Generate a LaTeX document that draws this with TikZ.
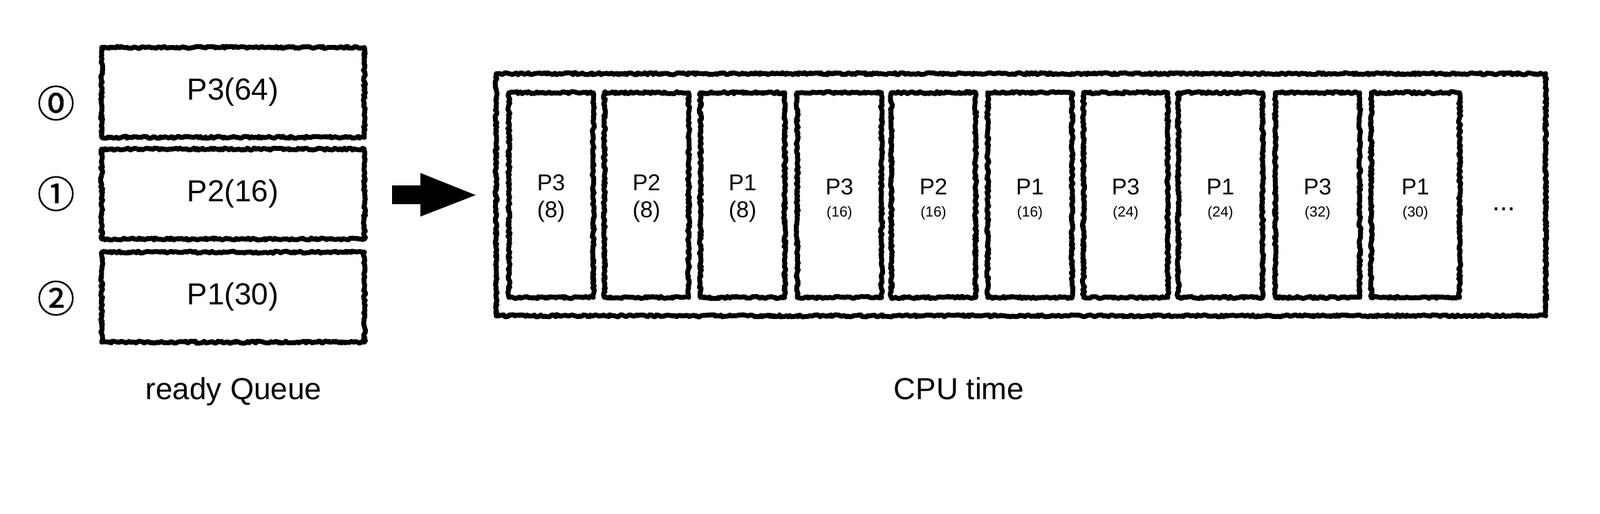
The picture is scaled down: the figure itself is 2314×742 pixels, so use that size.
\documentclass[tikz,border=0pt]{standalone}
\usepackage{fontspec}
\setmainfont{Liberation Sans}
\newfontfamily\cjkfont{Noto Sans CJK JP}[FakeBold=1.2]
\usetikzlibrary{decorations.pathmorphing}
\begin{document}
\begin{tikzpicture}[x=1pt,y=-1pt,
  rough/.style={draw=black, line width=7pt, line join=round,
    decorate, decoration={random steps, segment length=2.5pt, amplitude=1.6pt}},
  qbox/.style={rough, minimum width=380pt, minimum height=130pt, inner sep=0pt,
    font=\fontsize{44}{53}\selectfont},
  cbox/.style={rough, minimum width=122pt, minimum height=296pt, inner sep=0pt},
  ctext/.style={align=center, inner sep=0pt, font=\fontsize{33}{39}\selectfont},
  idx/.style={font=\cjkfont\fontsize{54}{60}\selectfont, inner sep=0pt},
  lbl/.style={font=\fontsize{44}{53}\selectfont, inner sep=0pt, anchor=base}
]
\useasboundingbox (0,0) rectangle (2314,742);
\fill[white] (0,0) rectangle (2314,742);

% ready queue
\node[qbox] (q0) at (337,133.5) {P3(64)};
\node[qbox] (q1) at (337,280.5) {P2(16)};
\node[qbox] (q2) at (337,429.5) {P1(30)};
\node[idx] (i0) at (81,149) {⓪};
\node[idx] (i1) at (81,280) {①};
\node[idx] (i2) at (81,431) {②};
\node[lbl] (lq) at (338,577) {ready Queue};

% arrow
\fill (567,268) -- (608,268) -- (608,250) -- (688,282) -- (608,313) -- (608,295) -- (567,295) -- cycle;

% CPU time
\node[rough, minimum width=1518pt, minimum height=350pt, inner sep=0pt] (cpu) at (1476.5,281.5) {};
\newcommand{\sm}[1]{{\fontsize{21}{25}\selectfont #1}}
\node[cbox] (c1) at (797,282) {};
\node[cbox] (c2) at (935,282) {};
\node[cbox] (c3) at (1074,282) {};
\node[cbox] (c4) at (1214,282) {};
\node[cbox] (c5) at (1350,282) {};
\node[cbox] (c6) at (1489.5,282) {};
\node[cbox] (c7) at (1628,282) {};
\node[cbox] (c8) at (1765,282) {};
\node[cbox] (c9) at (1905.5,282) {};
\node[cbox, minimum width=128pt] (c10) at (2047,282) {};
\node[ctext] (t1) at ([yshift=-5pt]c1.center) {P3\\(8)};
\node[ctext] (t2) at ([yshift=-5pt]c2.center) {P2\\(8)};
\node[ctext] (t3) at ([yshift=-5pt]c3.center) {P1\\(8)};
\node[ctext] (t4) at ([yshift=-6pt]c4.center) {P3\\[-7pt]\sm{(16)}};
\node[ctext] (t5) at ([yshift=-6pt]c5.center) {P2\\[-7pt]\sm{(16)}};
\node[ctext] (t6) at ([yshift=-6pt]c6.center) {P1\\[-7pt]\sm{(16)}};
\node[ctext] (t7) at ([yshift=-6pt]c7.center) {P3\\[-7pt]\sm{(24)}};
\node[ctext] (t8) at ([yshift=-6pt]c8.center) {P1\\[-7pt]\sm{(24)}};
\node[ctext] (t9) at ([yshift=-6pt]c9.center) {P3\\[-7pt]\sm{(32)}};
\node[ctext] (t10) at ([yshift=-6pt]c10.center) {P1\\[-7pt]\sm{(30)}};
\node[font=\fontsize{40}{48}\selectfont, inner sep=0pt, anchor=base] (dots) at (2175,304) {...};
\node[lbl] (lc) at (1387,577) {CPU time};
\end{tikzpicture}
\end{document}
